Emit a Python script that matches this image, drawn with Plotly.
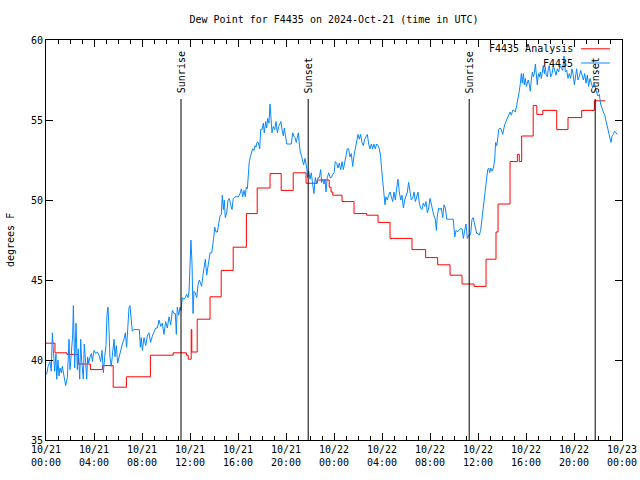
import plotly.graph_objects as go
import pandas as pd

START = pd.Timestamp("2024-10-21 00:00")

# F4435 Analysis (hourly step values): hours after start, degrees F
analysis_hours = [0, 0.75, 1.75, 2.7, 3.7, 4.7, 5.6, 6.7, 8.7, 10.6, 11.7, 11.85, 12.1, 12.15,
                  12.6, 13.67, 14.6, 15.6, 16.7, 17.6, 18.67, 19.6, 20.6, 21.67, 22.6, 23.6,
                  23.75, 23.9, 24.67, 25.67, 26.72, 27.67, 28.67, 30.5, 31.64, 32.64, 33.67,
                  34.67, 35.67, 36.67, 37.5, 37.67, 38.67, 39.28, 39.44, 39.64, 40.6, 40.9,
                  41.4, 42.56, 43.5, 44.64, 45.7, 46.6]
analysis_values = [41.05, 40.45, 40.35, 39.75, 39.4, 39.65, 38.3, 38.95, 40.3, 40.45, 40.3, 40.05,
                   41.9, 40.5, 42.55, 43.95, 45.6, 47.05, 49.15, 50.75, 51.65, 50.6, 51.7, 51.05,
                   51.25, 50.8, 50.5, 50.3, 49.9, 49.15, 49.05, 48.6, 47.6, 46.9, 46.4, 45.95,
                   45.3, 44.75, 44.6, 46.3, 48.0, 49.75, 52.4, 52.85, 52.4, 54.0, 55.9, 55.35,
                   55.6, 54.4, 55.15, 55.6, 56.2, 56.2]

# F4435 observations: hours after start, degrees F
obs_hours = [
    0.06, 0.17, 0.33, 0.44, 0.53, 0.61, 0.72, 0.83, 0.89, 1.0, 1.08, 1.17, 1.28, 1.36, 1.5, 1.64,
    1.78, 1.92, 2.0, 2.11, 2.22, 2.28, 2.39, 2.5, 2.61, 2.69, 2.81, 2.89, 2.97, 3.11, 3.19, 3.31,
    3.39, 3.47, 3.56, 3.67, 3.78, 3.86, 4.0, 4.14, 4.28, 4.42, 4.56, 4.67, 4.78, 4.89, 5.0, 5.08,
    5.17, 5.25, 5.33, 5.44, 5.56, 5.67, 5.75, 5.86, 5.97, 6.08, 6.22, 6.36, 6.5, 6.61, 6.72, 6.83,
    6.92, 7.0, 7.11, 7.19, 7.33, 7.61, 7.78, 7.86, 7.94, 8.03, 8.17, 8.31, 8.44, 8.58, 8.72, 8.86,
    9.0, 9.14, 9.28, 9.42, 9.56, 9.69, 9.83, 9.97, 10.11, 10.25, 10.39, 10.53, 10.67,
    10.78, 10.86, 10.94, 11.06, 11.17, 11.25, 11.36, 11.5, 11.61, 11.72, 11.83, 11.92, 12.0, 12.08,
    12.17, 12.25, 12.33, 12.44, 12.56, 12.67, 12.78, 12.86, 12.97, 13.06, 13.17, 13.28, 13.39,
    13.5, 13.58, 13.67, 13.81, 13.89, 13.97, 14.06, 14.17, 14.28, 14.39, 14.5, 14.61, 14.69, 14.78,
    14.86, 14.94, 15.06, 15.17, 15.28, 15.39, 15.5, 15.61, 15.75, 15.89, 16.03, 16.17, 16.28, 16.39,
    16.5, 16.61, 16.69, 16.78, 16.86, 16.94, 17.03, 17.11, 17.22, 17.33, 17.42, 17.5, 17.58, 17.69,
    17.81, 17.89, 18.0, 18.11, 18.19, 18.31, 18.39, 18.47, 18.58, 18.67, 18.75, 18.83, 18.94, 19.06,
    19.17, 19.28, 19.39, 19.5, 19.58, 19.67, 19.78, 19.86, 19.97, 20.06, 20.19, 20.33, 20.44, 20.56,
    20.64, 20.75, 20.86, 20.94, 21.03, 21.11, 21.19, 21.31, 21.39, 21.47, 21.58, 21.67, 21.75,
    21.78, 21.89, 22.0, 22.11, 22.22, 22.33, 22.44, 22.56, 22.67, 22.78, 22.89, 22.97, 23.06, 23.17,
    23.25, 23.33, 23.44, 23.56, 23.67, 23.78, 23.89, 24.0, 24.11, 24.22, 24.33, 24.44, 24.56, 24.67,
    24.78, 24.89, 25.0, 25.11, 25.22, 25.33, 25.44, 25.56, 25.67, 25.78, 25.89, 26.0, 26.11, 26.22,
    26.33, 26.44, 26.56, 26.67, 26.78, 26.89, 27.0, 27.11, 27.22, 27.33, 27.44, 27.56, 27.67, 27.78,
    27.89, 27.97, 28.06, 28.17, 28.25, 28.33, 28.44, 28.56, 28.67, 28.78, 28.89, 29.0, 29.11, 29.22,
    29.33, 29.44, 29.56, 29.67, 29.78, 29.89, 30.0, 30.11, 30.22, 30.33, 30.44, 30.56, 30.67, 30.78,
    30.89, 31.0, 31.11, 31.22, 31.33, 31.44, 31.56, 31.67, 31.78, 31.89, 32.0, 32.11, 32.22, 32.33,
    32.44, 32.53, 32.61, 32.72, 32.83, 32.94, 33.06, 33.17, 33.28, 33.39, 33.67, 33.94, 34.06, 34.17,
    34.28, 34.39, 34.5, 34.67, 34.78, 34.89, 35.0, 35.11, 35.22, 35.33,
    35.39, 35.5, 35.61, 35.69, 35.78, 35.89, 36.0, 36.11, 36.22, 36.33, 36.44, 36.53, 36.61, 36.72,
    36.81, 36.89, 36.97, 37.06, 37.17, 37.28, 37.39, 37.47, 37.56, 37.64, 37.72, 37.83, 37.94, 38.06,
    38.14, 38.22, 38.33, 38.44, 38.56, 38.67, 38.78, 38.89, 39.0, 39.11, 39.22, 39.33, 39.44, 39.53,
    39.61, 39.69, 39.78, 39.86, 39.94, 40.03, 40.11, 40.19, 40.28, 40.36, 40.44, 40.53, 40.61, 40.69,
    40.78, 40.86, 40.94, 41.03, 41.11, 41.19, 41.28, 41.36, 41.44, 41.53, 41.61, 41.69, 41.78, 41.86,
    41.94, 42.06, 42.17, 42.28, 42.39, 42.5, 42.61, 42.72, 42.83, 42.94, 43.06, 43.17, 43.28, 43.39,
    43.5, 43.61, 43.72, 43.83, 43.94, 44.03, 44.11, 44.22, 44.33, 44.44, 44.56, 44.67, 44.78, 44.89,
    45.0, 45.11, 45.22, 45.33, 45.44, 45.56, 45.67, 45.78, 45.89, 46.0, 46.11, 46.22, 46.33, 46.44,
    46.56, 46.67, 46.78, 46.89, 47.0, 47.08, 47.17, 47.28, 47.39, 47.5, 47.61]
obs_values = [
    39.1, 39.6, 39.9, 39.3, 41.7, 40.2, 39.3, 40.4, 38.8, 40.0, 39.0, 39.5, 39.2, 39.6, 38.9, 38.4,
    38.9, 41.3, 39.4, 40.4, 41.5, 43.4, 39.5, 42.3, 39.4, 40.7, 38.8, 41.3, 40.0, 38.8, 41.0, 39.8,
    38.8, 40.2, 39.8, 40.2, 40.4, 39.9, 40.6, 40.4, 40.5, 40.3, 39.9, 40.6, 39.2, 40.2, 40.9, 42.8,
    43.3, 41.9, 40.2, 39.6, 40.6, 41.3, 40.2, 40.9, 39.8, 40.2, 40.5, 41.0, 41.3, 41.7, 40.8, 42.1,
    43.3, 43.4, 42.1, 41.8, 41.9, 41.9, 41.9, 40.8, 41.4, 40.6, 41.4, 40.9, 41.5, 41.7, 41.1, 41.5,
    41.7, 42.0, 42.0, 42.5, 42.1, 42.3, 41.6, 42.4, 42.0, 42.7, 42.2, 43.1, 42.9,
    42.9, 41.6, 43.3, 42.8, 43.3, 43.1, 43.9, 43.8, 43.9, 44.1, 43.9, 44.3, 45.9, 47.5,
    46.0, 42.9, 44.3, 44.2, 43.9, 44.7, 45.0, 44.8, 44.6, 45.2, 45.7, 46.3, 45.3,
    45.8, 46.4, 46.7, 46.7, 47.1, 47.6, 48.3, 48.0, 48.0, 48.5, 49.0, 49.1, 50.3, 49.4,
    50.0, 48.9, 49.2, 50.0, 50.1, 49.7, 49.4, 50.1, 50.2, 50.2, 50.2, 50.4, 50.7, 50.2,
    50.6, 50.2, 50.8, 50.7, 51.7, 52.4, 52.7, 53.0, 53.2, 53.1, 53.4, 53.3, 53.6, 53.6,
    53.2, 54.4, 54.4, 54.8, 54.2, 54.9, 54.5, 55.1, 54.8, 56.0, 55.1, 54.2, 54.6, 54.4,
    54.9, 54.2, 54.6, 54.8, 54.9, 54.4, 54.0, 54.5, 54.0, 53.5, 53.5, 53.5, 53.5, 54.2,
    54.0, 53.9, 53.6, 53.9, 54.2, 53.5, 53.0, 52.7, 52.5, 52.2, 52.6, 52.2, 51.9,
    51.4, 51.8, 51.3, 51.7, 51.0, 50.4, 51.4, 51.0, 51.4, 51.4, 51.9, 51.1, 51.3, 51.0,
    51.3, 50.5, 51.4, 51.7, 51.4, 51.4, 51.6, 51.7, 52.4, 52.3, 52.0, 52.3, 51.9, 52.4,
    51.9, 52.3, 52.7, 53.2, 53.2, 52.7, 52.9, 52.1, 52.8, 53.2, 53.5, 54.1, 53.8, 54.1,
    53.6, 53.4, 53.8, 54.0, 54.1, 53.5, 53.2, 53.5, 53.2, 53.5, 53.2, 53.5, 53.4, 53.2,
    52.7, 51.9, 51.3, 50.4, 49.7, 50.2, 50.0, 50.3, 50.5, 50.2, 49.9, 50.5, 50.0, 50.7,
    51.3, 50.5, 50.0, 50.3, 49.5, 50.0, 50.2, 50.5, 51.1, 50.5, 50.0, 50.1, 50.5, 49.9,
    50.2, 50.5, 49.8, 49.5, 49.4, 49.8, 49.6, 49.9, 49.2, 49.5, 50.1, 49.7, 49.2, 49.0,
    48.8, 48.1, 49.0, 49.5, 49.4, 49.5, 48.9, 49.7, 49.5, 48.8, 48.8, 48.8, 47.7, 48.1,
    48.0, 48.1, 48.2, 48.2, 47.6, 48.1, 48.5, 47.6, 47.8, 47.8,
    47.9, 48.8, 48.9, 48.6, 48.3, 47.9, 47.9, 47.8, 48.1, 48.8, 49.4, 50.1, 50.8, 51.5,
    51.9, 52.0, 51.7, 52.0, 51.8, 52.0, 52.5, 53.6, 53.4, 53.8, 54.4, 54.5, 54.4, 54.1,
    54.5, 54.7, 54.9, 55.1, 55.2, 55.5, 55.3, 55.6, 55.6, 55.5, 55.9, 56.3, 56.8, 57.3,
    57.9, 57.3, 57.9, 57.2, 57.6, 57.1, 57.4, 57.5, 57.2, 56.8, 57.5, 58.0, 57.7, 57.9,
    58.5, 57.6, 57.2, 57.9, 57.7, 58.0, 57.6, 58.0, 58.4, 57.9, 58.3, 57.8, 57.7, 58.2,
    58.4, 57.7, 57.9, 58.4, 58.0, 57.8, 58.2, 58.0, 58.4, 58.2, 58.1, 59.0, 58.0, 58.1,
    57.6, 57.9, 57.6, 58.2, 57.8, 57.2, 57.8, 58.2, 57.5, 57.7, 58.1, 57.8, 57.5, 57.9,
    57.3, 57.8, 57.1, 57.6, 57.3, 57.0, 57.3, 56.9, 56.7, 56.5, 56.6, 56.0, 55.7, 55.5,
    55.3, 54.9, 54.6, 54.1, 53.9, 53.6, 54.0, 54.1, 54.3, 54.2, 54.1]

sun_labels = ["Sunrise", "Sunset", "Sunrise", "Sunset"]
sun_times = ["2024-10-21 11:15", "2024-10-21 21:51", "2024-10-22 11:16", "2024-10-22 21:46"]

tick_hours = list(range(0, 49, 4))
tick_labels = ["10/21<br>00:00", "10/21<br>04:00", "10/21<br>08:00", "10/21<br>12:00",
               "10/21<br>16:00", "10/21<br>20:00", "10/22<br>00:00", "10/22<br>04:00",
               "10/22<br>08:00", "10/22<br>12:00", "10/22<br>16:00", "10/22<br>20:00",
               "10/23<br>00:00"]
y_ticks = [35, 40, 45, 50, 55, 60]


def to_time(hours):
    return [START + pd.Timedelta(hours=h) for h in hours]


RED = "#ff0000"
BLUE = "#0a88ff"
FONT = "DejaVu Sans Mono"

fig = go.Figure()
fig.add_trace(go.Scatter(x=to_time(analysis_hours), y=analysis_values, mode="lines",
                         line=dict(color=RED, width=1, shape="hv"), name="F4435 Analysis",
                         showlegend=False))
fig.add_trace(go.Scatter(x=to_time(obs_hours), y=obs_values, mode="lines",
                         line=dict(color=BLUE, width=1), name="F4435", showlegend=False))

for lab, t in zip(sun_labels, sun_times):
    fig.add_shape(type="line", xref="x", yref="paper", x0=t, x1=t, y0=0, y1=0.8525,
                  line=dict(color="black", width=1))
    fig.add_annotation(x=t, xref="x", y=0.862, yref="paper", text=lab, textangle=-90,
                       showarrow=False, xanchor="center", yanchor="bottom",
                       font=dict(family=FONT, size=10, color="black"))

# legend (gnuplot style: text right-aligned, sample line on the right)
legend_items = [("F4435 Analysis", RED, 0.978), ("F4435", BLUE, 0.9425)]
for txt, col, yy in legend_items:
    fig.add_annotation(x=0.918, xref="paper", y=yy, yref="paper", text=txt, showarrow=False,
                       xanchor="right", yanchor="middle",
                       font=dict(family=FONT, size=10, color="black"))
    fig.add_shape(type="line", xref="paper", yref="paper", x0=0.929, x1=0.979, y0=yy, y1=yy,
                  line=dict(color=col, width=1))

# y axis title
fig.add_annotation(x=-0.0625, xref="paper", y=0.5, yref="paper", text="degrees F",
                   textangle=-90, showarrow=False, xanchor="center", yanchor="middle",
                   font=dict(family=FONT, size=10, color="black"))

fig.update_layout(
    width=640, height=480,
    margin=dict(l=46, r=18, t=40, b=40, autoexpand=False),
    paper_bgcolor="white", plot_bgcolor="white",
    font=dict(family=FONT, size=10, color="black"),
    title=dict(text="Dew Point for F4435 on 2024-Oct-21 (time in UTC)", x=0.5, xref="paper",
               xanchor="center", y=1 - 19 / 480, yanchor="middle",
               font=dict(family=FONT, size=10, color="black")),
)
fig.update_xaxes(
    range=[START, START + pd.Timedelta(hours=48)],
    tickvals=to_time(tick_hours), ticktext=tick_labels,
    ticks="inside", ticklen=7, tickcolor="black", tickwidth=1,
    showline=True, linecolor="black", linewidth=1, mirror="ticks",
    showgrid=False, zeroline=False, automargin=False,
    minor=dict(ticks="inside", ticklen=4, dtick=3600000, tickcolor="black", showgrid=False),
    tickfont=dict(family=FONT, size=10, color="black"),
)
fig.update_yaxes(
    range=[35, 60], tickvals=y_ticks,
    ticks="inside", ticklen=7, tickcolor="black", tickwidth=1,
    showline=True, linecolor="black", linewidth=1, mirror="ticks",
    showgrid=False, zeroline=False, automargin=False,
    tickfont=dict(family=FONT, size=10, color="black"),
)

fig.write_html("out.html", config={"displayModeBar": False},
               post_script="document.body.style.margin='0';")
